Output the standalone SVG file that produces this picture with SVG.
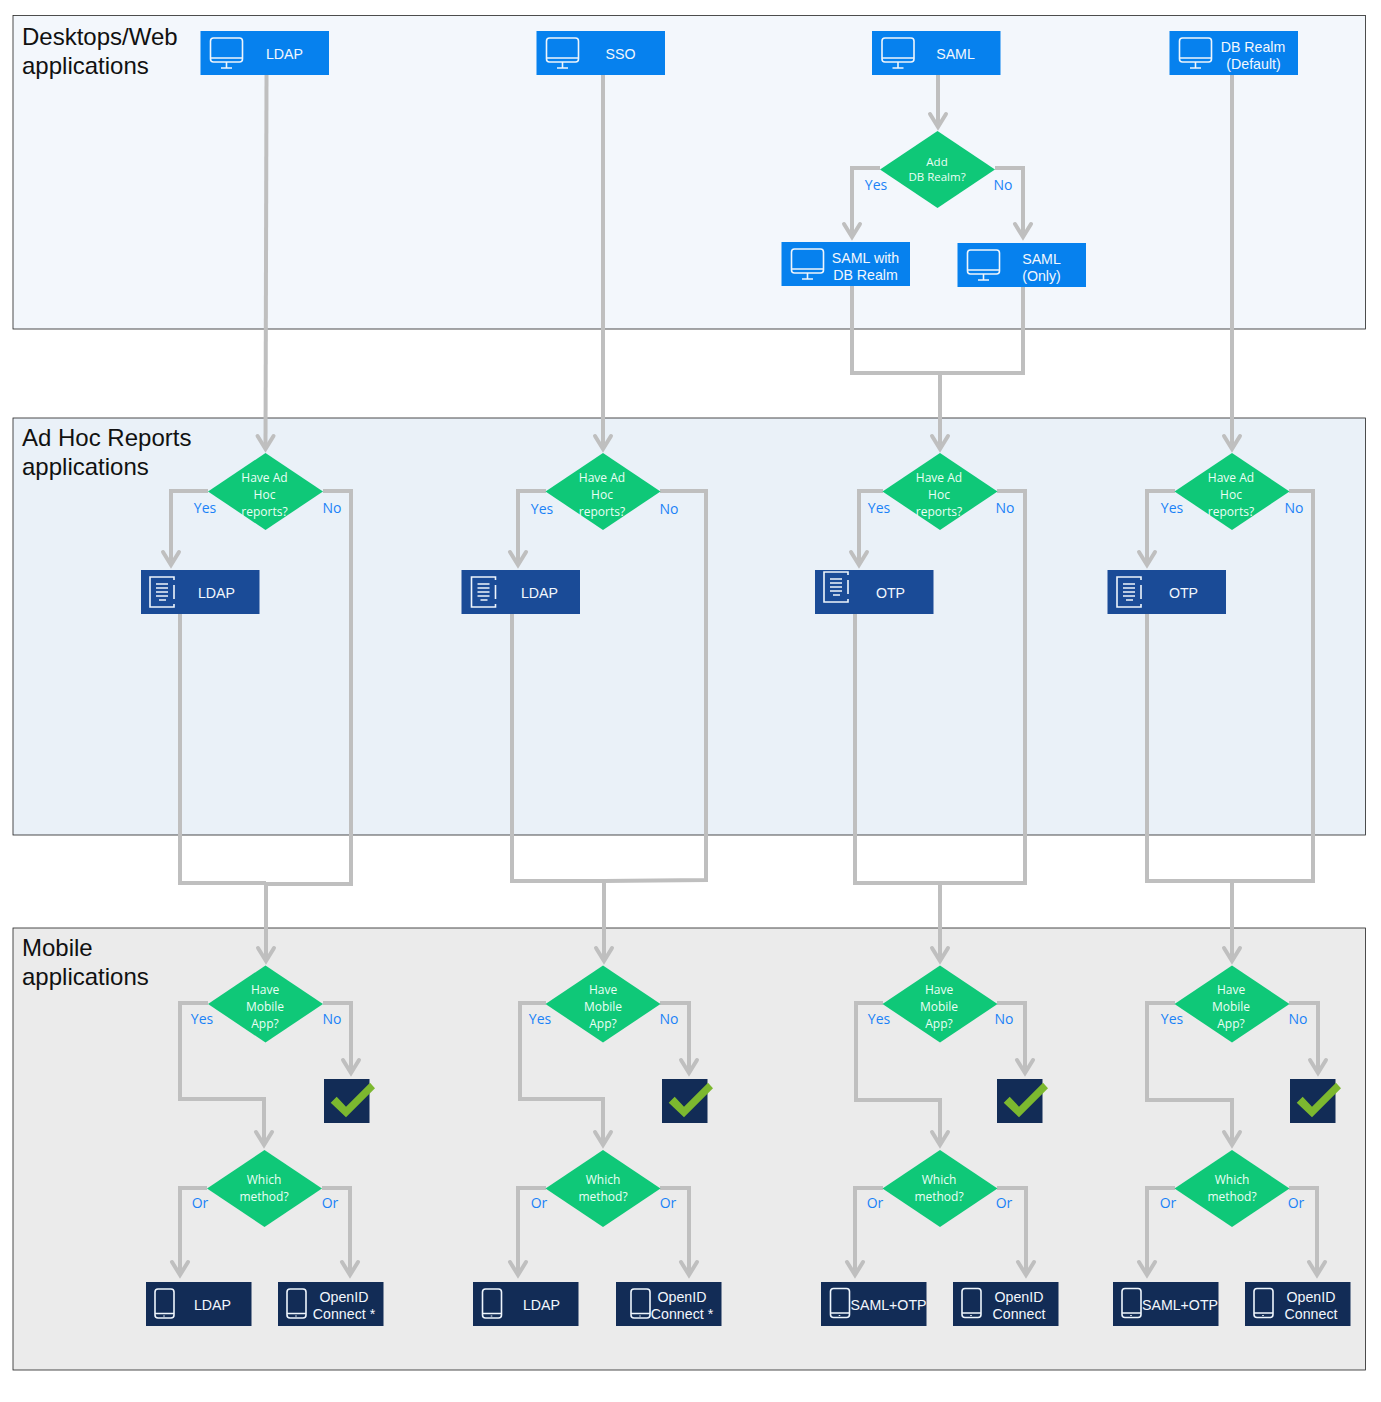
<svg xmlns="http://www.w3.org/2000/svg" xmlns:xlink="http://www.w3.org/1999/xlink" width="1381" height="1402" viewBox="0 0 1381 1402">
<style>
text{font-family:"Liberation Sans",Arial,sans-serif}
.panel{stroke:#222;stroke-width:0.8}
.title{font-size:24px;fill:#111}
.conn{fill:none;stroke:#bfbfbf;stroke-width:4;stroke-linejoin:miter}
.arr{marker-end:url(#arrow)}
.dia{fill:#0fc878}
.dt{font-family:"Open Sans","Noto Sans",sans-serif;font-size:12px;fill:#eafff5;text-anchor:middle}
.dts{font-size:11.500px}
.lab{font-family:"Open Sans","Noto Sans",sans-serif;font-size:14px;fill:#1a82f7;text-anchor:middle}
.bt{font-size:14.200px;fill:#f2f7fd;text-anchor:middle}
.web{fill:#0681ee}.adhoc{fill:#1a4b97}.mob{fill:#122c56}
.ic{fill:none;stroke:#eef5fc;stroke-width:1.6}
</style>
<defs>
<marker id="arrow" markerUnits="userSpaceOnUse" markerWidth="30" markerHeight="30" viewBox="-20 -15 30 30" refX="0" refY="0" orient="auto" overflow="visible"><path d="M-13,-8 L0,0 L-13,8" fill="none" stroke="#bfbfbf" stroke-width="4" stroke-linecap="round"/></marker>
<g id="mon" class="ic"><rect x="10" y="7" width="32" height="24" rx="3"/><path d="M10 27H42M26 31V37M20.500 37H31.500"/></g>
<g id="doc" class="ic"><path d="M33 10V7H9V37H33V34M33 15V29" /><path d="M15 14H27M15 18H27M15 22H27M15 26H27M18 30H25"/></g>
<g id="ph" class="ic"><rect x="9" y="7" width="19" height="29" rx="3"/><path d="M9 31.500H28M18 33.500V34.500"/></g>
<polygon id="d" class="dia" points="-57.500,0 0,-38.500 57.500,0 0,38.500"/>
<g id="ck"><rect class="mob" width="45.500" height="44"/><polygon fill="#7cb82f" points="6.700,23.700 12.700,17.700 22,27.700 46,3.700 51,9.300 22,38.300"/></g>
</defs>

<g id="panels">
<rect id="panel-web" class="panel" x="13" y="15.500" width="1352.500" height="313.500" fill="#f3f7fc"/>
<rect id="panel-adhoc" class="panel" x="13" y="418" width="1352.500" height="417" fill="#eaf1f8"/>
<rect id="panel-mobile" class="panel" x="13" y="928" width="1352.500" height="442" fill="#ebebeb"/>
<text class="title" x="22" y="45">Desktops/Web</text><text class="title" x="22" y="74">applications</text>
<text class="title" x="22" y="446">Ad Hoc Reports</text><text class="title" x="22" y="475">applications</text>
<text class="title" x="22" y="956">Mobile</text><text class="title" x="22" y="985">applications</text>
</g>

<g id="connectors">
<path class="conn arr" d="M266.500 75L265.500 449"/>
<path class="conn arr" d="M208 491H171V565"/>
<path class="conn" d="M180 614V883H266"/>
<path class="conn" d="M323 491H351V884H266"/>
<path class="conn arr" d="M266 883V961"/>
<path class="conn arr" d="M208 1003H180V1099H264V1145"/>
<path class="conn arr" d="M323 1003H351V1073"/>
<path class="conn arr" d="M207 1188H180V1275"/>
<path class="conn arr" d="M322 1188H350V1275"/>

<path class="conn arr" d="M603 75V449"/>
<path class="conn arr" d="M546 491H518V565"/>
<path class="conn" d="M512 614V881H604"/>
<path class="conn" d="M660 491H706V880L604 881"/>
<path class="conn arr" d="M604 881V961"/>
<path class="conn arr" d="M546 1003H520V1099H603V1145"/>
<path class="conn arr" d="M660 1003H689V1073"/>
<path class="conn arr" d="M546 1188H518V1275"/>
<path class="conn arr" d="M660 1188H689V1275"/>

<path class="conn arr" d="M938 75V127"/>
<path class="conn arr" d="M880 168H852V237"/>
<path class="conn arr" d="M995 168H1023V237"/>
<path class="conn" d="M852 286V373H1023V287"/>
<path class="conn arr" d="M940 373V449"/>
<path class="conn arr" d="M883 491H859V565"/>
<path class="conn" d="M855 614V883H940"/>
<path class="conn" d="M997 491H1025V883H940"/>
<path class="conn arr" d="M940 883V961"/>
<path class="conn arr" d="M883 1003H856V1100H940V1145"/>
<path class="conn arr" d="M997 1003H1025V1073"/>
<path class="conn arr" d="M883 1188H855V1275"/>
<path class="conn arr" d="M997 1188H1026V1275"/>

<path class="conn arr" d="M1232 75V449"/>
<path class="conn arr" d="M1175 491H1147V565"/>
<path class="conn" d="M1147 614V881H1232"/>
<path class="conn" d="M1289 491H1313V881H1232"/>
<path class="conn arr" d="M1232 881V961"/>
<path class="conn arr" d="M1175 1003H1147V1100H1232V1145"/>
<path class="conn arr" d="M1289 1003H1318V1073"/>
<path class="conn arr" d="M1175 1188H1147V1275"/>
<path class="conn arr" d="M1289 1188H1317V1275"/>
</g>

<g id="labels">
<text class="lab" x="876" y="190">Yes</text><text class="lab" x="1003" y="190">No</text>
<text class="lab" x="205" y="513">Yes</text><text class="lab" x="332" y="513">No</text>
<text class="lab" x="542" y="514">Yes</text><text class="lab" x="669" y="514">No</text>
<text class="lab" x="879" y="513">Yes</text><text class="lab" x="1005" y="513">No</text>
<text class="lab" x="1172" y="513">Yes</text><text class="lab" x="1294" y="513">No</text>
<text class="lab" x="202" y="1024">Yes</text><text class="lab" x="332" y="1024">No</text>
<text class="lab" x="540" y="1024">Yes</text><text class="lab" x="669" y="1024">No</text>
<text class="lab" x="879" y="1024">Yes</text><text class="lab" x="1004" y="1024">No</text>
<text class="lab" x="1172" y="1024">Yes</text><text class="lab" x="1298" y="1024">No</text>
<text class="lab" x="200" y="1208">Or</text><text class="lab" x="330" y="1208">Or</text>
<text class="lab" x="539" y="1208">Or</text><text class="lab" x="668" y="1208">Or</text>
<text class="lab" x="875" y="1208">Or</text><text class="lab" x="1004" y="1208">Or</text>
<text class="lab" x="1168" y="1208">Or</text><text class="lab" x="1296" y="1208">Or</text>
</g>

<g id="web-ldap"><rect class="web" x="200.500" y="31" width="128.500" height="44"/><use href="#mon" x="200.500" y="31"/><text class="bt" x="284.500" y="59">LDAP</text></g>
<g id="web-sso"><rect class="web" x="536.500" y="31" width="128.500" height="44"/><use href="#mon" x="536.500" y="31"/><text class="bt" x="620.500" y="59">SSO</text></g>
<g id="web-saml"><rect class="web" x="872" y="31" width="128.500" height="44"/><use href="#mon" x="872" y="31"/><text class="bt" x="955.500" y="59">SAML</text></g>
<g id="web-db"><rect class="web" x="1169.500" y="31" width="128.500" height="44"/><use href="#mon" x="1169.500" y="31"/><text class="bt" x="1253" y="52">DB Realm</text><text class="bt" x="1253.500" y="69">(Default)</text></g>
<g id="web-saml-db"><rect class="web" x="781.500" y="242" width="128.500" height="44"/><use href="#mon" x="781.500" y="242" /><text class="bt" x="865.500" y="263">SAML with</text><text class="bt" x="865.500" y="280">DB Realm</text></g>
<g id="web-saml-only"><rect class="web" x="957.500" y="243" width="128.500" height="44"/><use href="#mon" x="957.500" y="243"/><text class="bt" x="1041.500" y="264">SAML</text><text class="bt" x="1041.500" y="281">(Only)</text></g>

<g id="d-add"><use href="#d" x="937.500" y="169.500"/><text class="dt dts" x="937" y="166">Add</text><text class="dt dts" x="937" y="181">DB Realm?</text></g>

<g id="d-adhoc-1"><use href="#d" x="265.500" y="491.500"/><text class="dt" x="264.500" y="482">Have Ad</text><text class="dt" x="264.500" y="499">Hoc</text><text class="dt" x="264.500" y="516">reports?</text></g>
<g id="d-adhoc-2"><use href="#d" x="603" y="491.500"/><text class="dt" x="602" y="482">Have Ad</text><text class="dt" x="602" y="499">Hoc</text><text class="dt" x="602" y="516">reports?</text></g>
<g id="d-adhoc-3"><use href="#d" x="940" y="491.500"/><text class="dt" x="939" y="482">Have Ad</text><text class="dt" x="939" y="499">Hoc</text><text class="dt" x="939" y="516">reports?</text></g>
<g id="d-adhoc-4"><use href="#d" x="1232" y="491.500"/><text class="dt" x="1231" y="482">Have Ad</text><text class="dt" x="1231" y="499">Hoc</text><text class="dt" x="1231" y="516">reports?</text></g>

<g id="adhoc-1"><rect class="adhoc" x="141" y="570" width="118.500" height="44"/><use href="#doc" x="141" y="570"/><text class="bt" x="216.500" y="598">LDAP</text></g>
<g id="adhoc-2"><rect class="adhoc" x="461.500" y="570" width="118.500" height="44"/><use href="#doc" x="462.500" y="570"/><text class="bt" x="539.500" y="598">LDAP</text></g>
<g id="adhoc-3"><rect class="adhoc" x="815" y="570" width="118.500" height="44"/><use href="#doc" x="815" y="565"/><text class="bt" x="890.500" y="598">OTP</text></g>
<g id="adhoc-4"><rect class="adhoc" x="1107.500" y="570" width="118.500" height="44"/><use href="#doc" x="1108" y="570"/><text class="bt" x="1183.500" y="598">OTP</text></g>

<g id="d-mobile-1"><use href="#d" x="265.500" y="1004"/><text class="dt" x="265" y="994">Have</text><text class="dt" x="265" y="1011">Mobile</text><text class="dt" x="265" y="1028">App?</text></g>
<g id="d-mobile-2"><use href="#d" x="603" y="1004"/><text class="dt" x="603" y="994">Have</text><text class="dt" x="603" y="1011">Mobile</text><text class="dt" x="603" y="1028">App?</text></g>
<g id="d-mobile-3"><use href="#d" x="940" y="1004"/><text class="dt" x="939" y="994">Have</text><text class="dt" x="939" y="1011">Mobile</text><text class="dt" x="939" y="1028">App?</text></g>
<g id="d-mobile-4"><use href="#d" x="1232" y="1004"/><text class="dt" x="1231" y="994">Have</text><text class="dt" x="1231" y="1011">Mobile</text><text class="dt" x="1231" y="1028">App?</text></g>

<g id="check-1"><use href="#ck" x="324" y="1079"/></g>
<g id="check-2"><use href="#ck" x="662" y="1079"/></g>
<g id="check-3"><use href="#ck" x="997" y="1079"/></g>
<g id="check-4"><use href="#ck" x="1290" y="1079"/></g>

<g id="d-which-1"><use href="#d" x="264.500" y="1188.500"/><text class="dt" x="264" y="1184">Which</text><text class="dt" x="264" y="1200.500">method?</text></g>
<g id="d-which-2"><use href="#d" x="603" y="1188.500"/><text class="dt" x="603" y="1184">Which</text><text class="dt" x="603" y="1200.500">method?</text></g>
<g id="d-which-3"><use href="#d" x="940" y="1188.500"/><text class="dt" x="939" y="1184">Which</text><text class="dt" x="939" y="1200.500">method?</text></g>
<g id="d-which-4"><use href="#d" x="1232" y="1188.500"/><text class="dt" x="1232" y="1184">Which</text><text class="dt" x="1232" y="1200.500">method?</text></g>

<g id="mob-1a"><rect class="mob" x="146" y="1282" width="105.500" height="44"/><use href="#ph" x="146" y="1282"/><text class="bt" x="212.500" y="1310">LDAP</text></g>
<g id="mob-1b"><rect class="mob" x="278" y="1282" width="105.500" height="44"/><use href="#ph" x="278" y="1282"/><text class="bt" x="344" y="1302">OpenID</text><text class="bt" x="344" y="1319">Connect *</text></g>
<g id="mob-2a"><rect class="mob" x="473" y="1282" width="105.500" height="44"/><use href="#ph" x="473.500" y="1282"/><text class="bt" x="541.500" y="1310">LDAP</text></g>
<g id="mob-2b"><rect class="mob" x="616" y="1282" width="105.500" height="44"/><use href="#ph" x="622" y="1282"/><text class="bt" x="682" y="1302">OpenID</text><text class="bt" x="682" y="1319">Connect *</text></g>
<g id="mob-3a"><rect class="mob" x="821" y="1282" width="105.500" height="44"/><use href="#ph" x="821.500" y="1281.500"/><text class="bt" x="888.500" y="1310">SAML+OTP</text></g>
<g id="mob-3b"><rect class="mob" x="953" y="1282" width="105.500" height="44"/><use href="#ph" x="953" y="1281.500"/><text class="bt" x="1019" y="1302">OpenID</text><text class="bt" x="1019" y="1319">Connect</text></g>
<g id="mob-4a"><rect class="mob" x="1113" y="1282" width="105.500" height="44"/><use href="#ph" x="1113" y="1281.500"/><text class="bt" x="1180" y="1310">SAML+OTP</text></g>
<g id="mob-4b"><rect class="mob" x="1245" y="1282" width="105.500" height="44"/><use href="#ph" x="1245" y="1281.500"/><text class="bt" x="1311" y="1302">OpenID</text><text class="bt" x="1311" y="1319">Connect</text></g>
</svg>
